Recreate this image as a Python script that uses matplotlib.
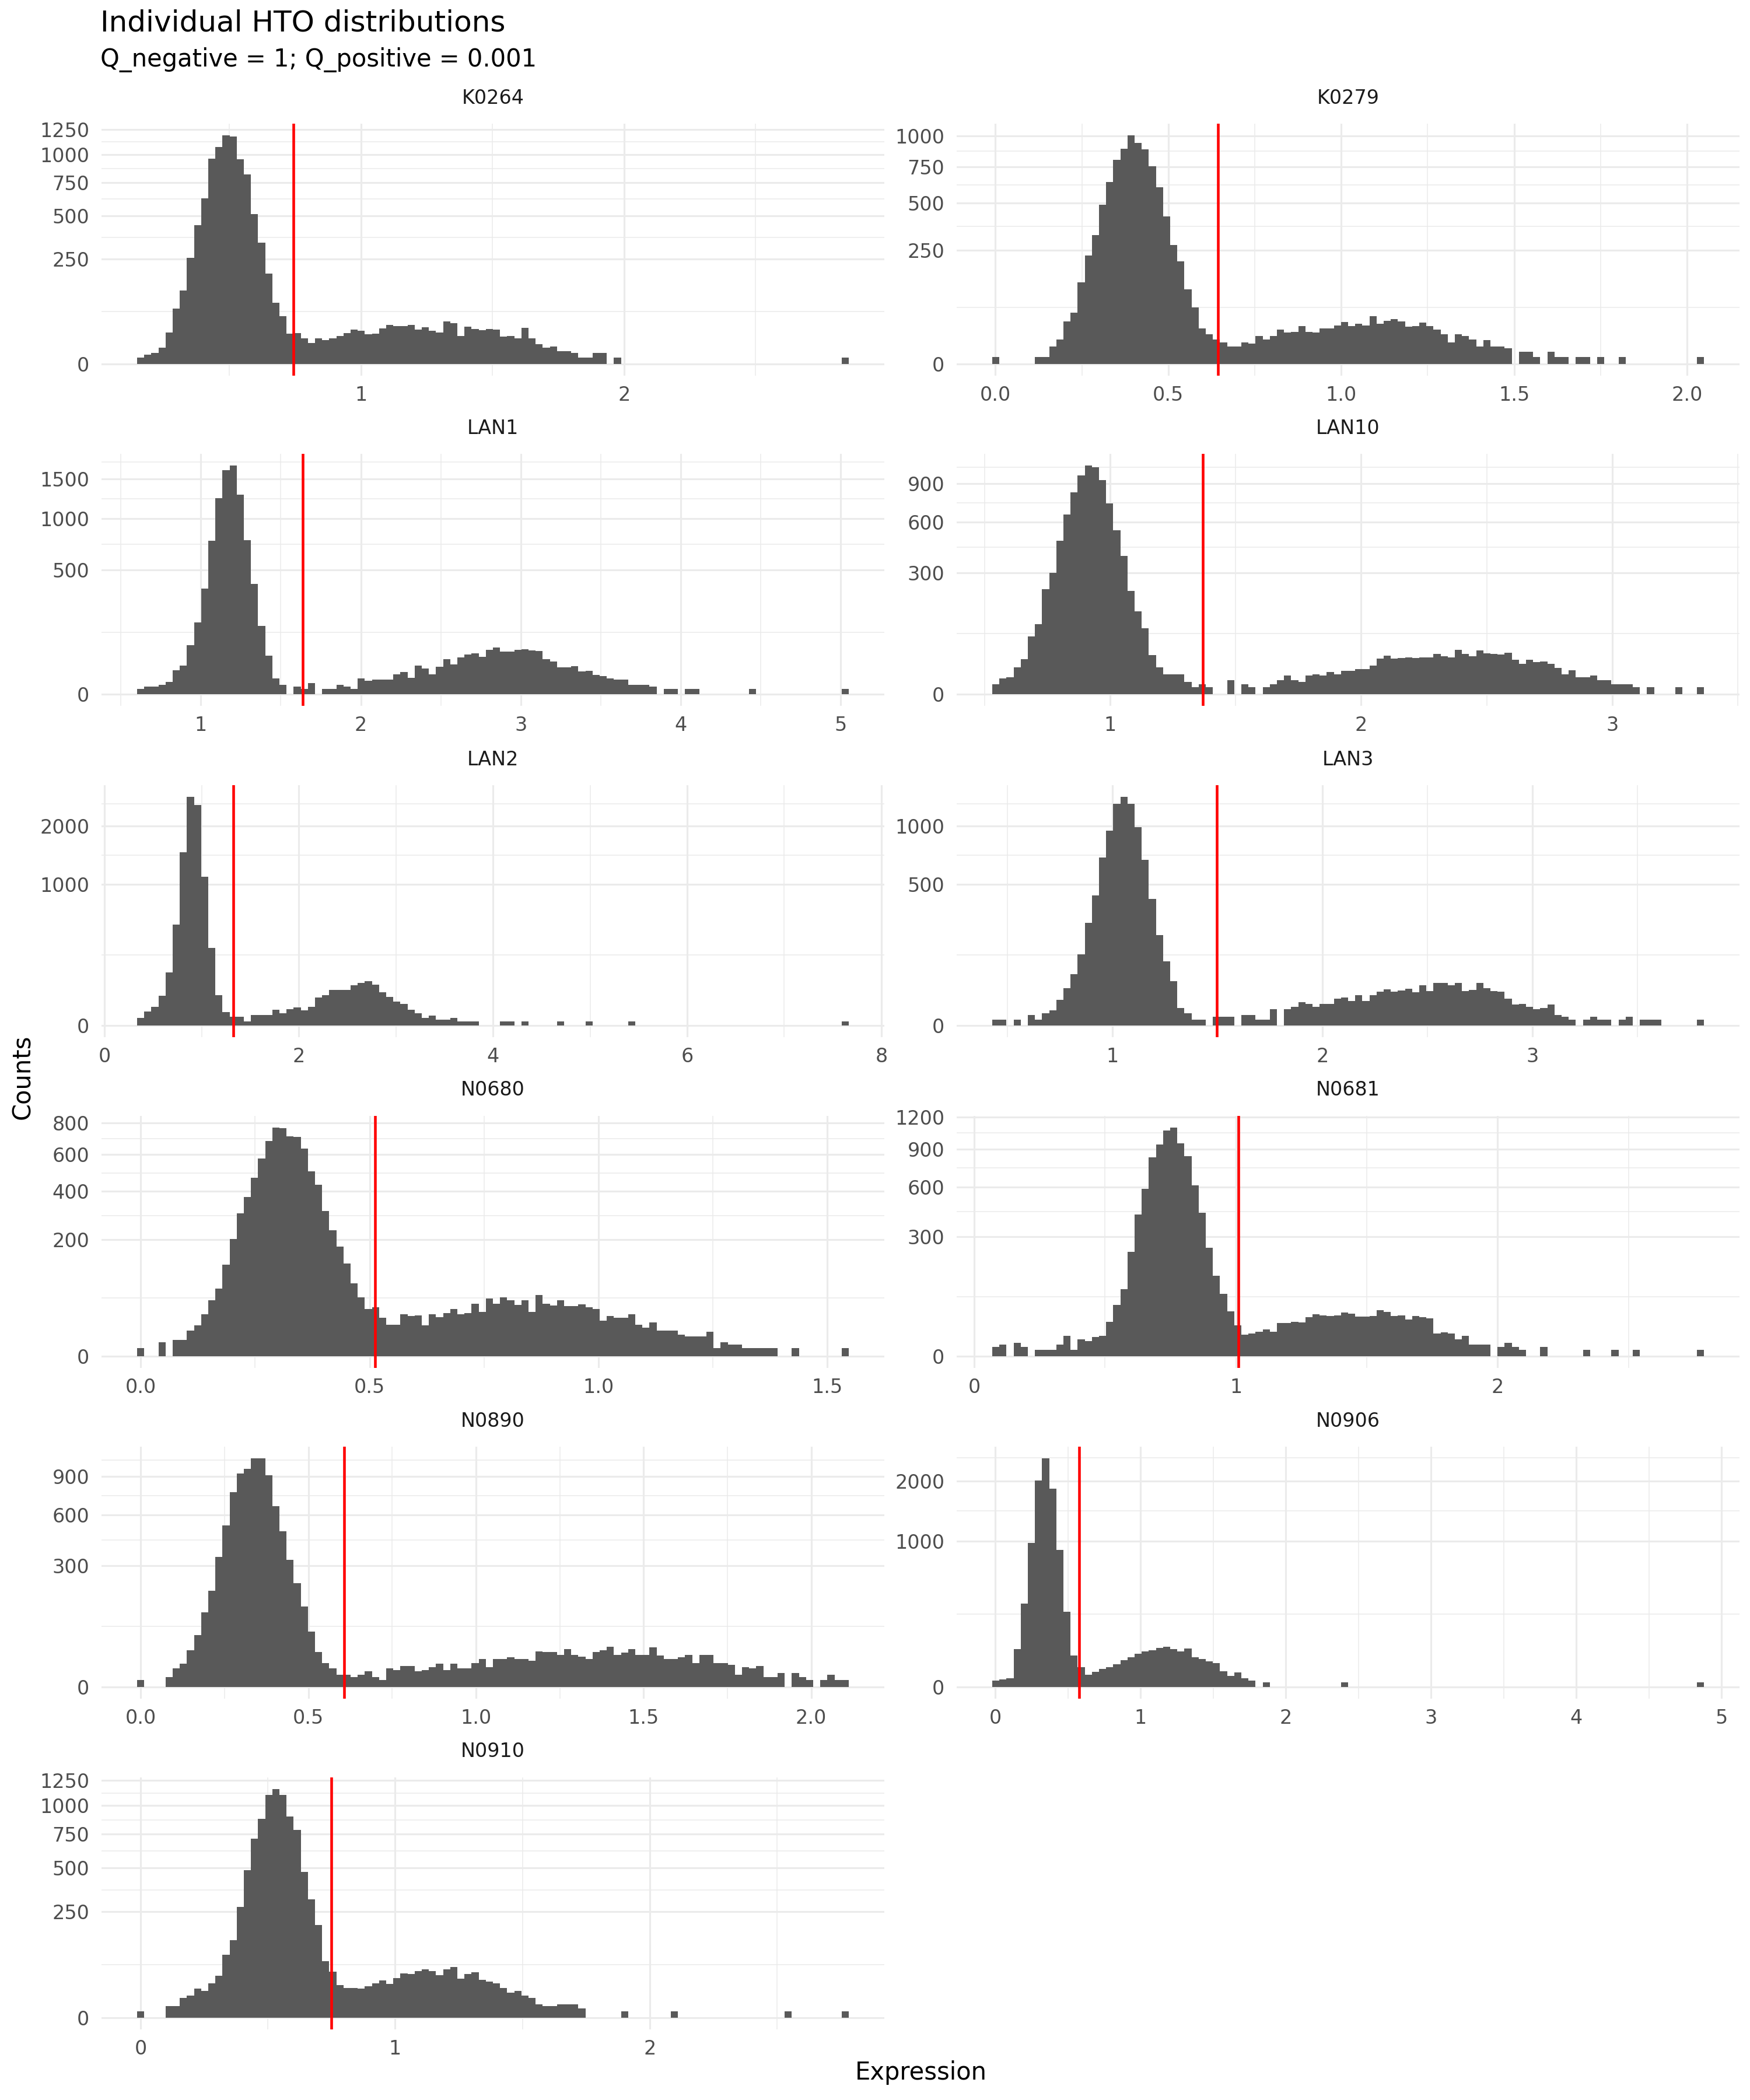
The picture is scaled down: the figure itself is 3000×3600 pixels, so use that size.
import numpy as np
import matplotlib
matplotlib.use("Agg")
import matplotlib.pyplot as plt

# ---------------- data ----------------
samples = ["K0264", "K0279", "LAN1", "LAN10", "LAN2", "LAN3",
           "N0680", "N0681", "N0890", "N0906", "N0910"]

k0264_counts = [1, 2, 3, 6, 23, 70, 124, 258, 440, 626,
                961, 1073, 1191, 1175, 955, 816, 513, 336, 187, 86,
                52, 21, 22, 15, 10, 15, 13, 15, 18, 22,
                27, 25, 20, 21, 29, 35, 33, 33, 35, 27,
                31, 25, 23, 41, 38, 18, 32, 28, 26, 28,
                27, 17, 18, 15, 30, 15, 9, 6, 7, 4,
                4, 3, 1, 1, 3, 3, 0, 1, 0, 0,
                0, 0, 0, 0, 0, 0, 0, 0, 0, 0,
                0, 0, 0, 0, 0, 0, 0, 0, 0, 0,
                0, 0, 0, 0, 0, 0, 0, 0, 0, 1]
k0279_counts = [1, 0, 0, 0, 0, 0, 1, 1, 6, 12,
                35, 51, 129, 227, 320, 488, 638, 802, 892, 1008,
                941, 887, 751, 602, 420, 273, 203, 107, 62, 25,
                17, 12, 9, 6, 6, 9, 8, 15, 12, 15,
                23, 19, 20, 28, 20, 19, 25, 25, 29, 34,
                28, 31, 29, 44, 31, 36, 39, 35, 27, 28,
                33, 28, 23, 17, 9, 17, 15, 12, 6, 11,
                6, 6, 5, 0, 3, 3, 1, 0, 3, 1,
                1, 0, 1, 1, 0, 1, 0, 0, 1, 0,
                0, 0, 0, 0, 0, 0, 0, 0, 0, 1]
lan1_counts = [1, 2, 2, 3, 5, 19, 27, 78, 167, 361,
               760, 1241, 1625, 1693, 1283, 765, 393, 151, 49, 8,
               3, 0, 2, 1, 4, 0, 1, 1, 3, 2,
               1, 8, 6, 7, 7, 7, 13, 16, 9, 27,
               22, 13, 25, 40, 29, 44, 52, 55, 46, 64,
               71, 59, 59, 64, 66, 63, 61, 40, 35, 24,
               24, 26, 17, 18, 12, 11, 8, 7, 7, 3,
               3, 3, 2, 0, 1, 1, 0, 1, 1, 0,
               0, 0, 0, 0, 0, 0, 1, 0, 0, 0,
               0, 0, 0, 0, 0, 0, 0, 0, 0, 1]
lan10_counts = [2, 5, 6, 15, 25, 68, 100, 223, 300, 476,
                656, 827, 971, 1061, 1045, 930, 739, 543, 387, 217,
                139, 88, 31, 15, 8, 8, 8, 3, 1, 2,
                1, 0, 0, 4, 0, 2, 1, 0, 1, 2,
                4, 7, 4, 3, 7, 8, 7, 10, 8, 11,
                11, 13, 13, 17, 26, 30, 26, 27, 28, 27,
                28, 28, 33, 29, 28, 40, 33, 29, 39, 34,
                33, 32, 35, 24, 19, 24, 21, 22, 19, 14,
                8, 12, 6, 6, 7, 4, 4, 2, 2, 2,
                1, 0, 1, 0, 0, 0, 1, 0, 0, 1]
lan2_counts = [3, 10, 18, 45, 143, 514, 1513, 2635, 2450, 1116,
               304, 47, 9, 4, 4, 1, 6, 6, 6, 13,
               8, 14, 17, 12, 18, 40, 47, 64, 64, 64,
               82, 92, 100, 85, 56, 42, 29, 24, 13, 8,
               3, 5, 2, 2, 3, 1, 1, 1, 0, 0,
               0, 1, 1, 0, 1, 0, 0, 0, 0, 1,
               0, 0, 0, 1, 0, 0, 0, 0, 0, 1,
               0, 0, 0, 0, 0, 0, 0, 0, 0, 0,
               0, 0, 0, 0, 0, 0, 0, 0, 0, 0,
               0, 0, 0, 0, 0, 0, 0, 0, 0, 1]
lan3_counts = [1, 1, 0, 1, 0, 3, 1, 4, 6, 17,
               35, 67, 128, 266, 427, 712, 957, 1234, 1318, 1234,
               992, 692, 404, 207, 104, 50, 8, 4, 1, 1,
               0, 2, 2, 2, 0, 3, 3, 1, 1, 7,
               0, 7, 9, 14, 12, 9, 12, 12, 18, 20,
               15, 23, 15, 23, 29, 33, 29, 31, 34, 28,
               41, 30, 46, 46, 41, 46, 30, 32, 46, 35,
               30, 29, 18, 11, 12, 9, 7, 8, 11, 3,
               2, 1, 0, 1, 2, 1, 1, 0, 1, 2,
               0, 1, 1, 1, 0, 0, 0, 0, 0, 1]
n0680_counts = [1, 0, 0, 3, 0, 4, 4, 10, 14, 26,
                46, 68, 124, 203, 302, 374, 470, 577, 683, 771,
                767, 713, 709, 636, 504, 434, 312, 235, 178, 127,
                78, 51, 33, 36, 22, 15, 15, 26, 24, 25,
                14, 26, 23, 28, 33, 26, 28, 41, 29, 49,
                41, 51, 46, 39, 46, 29, 56, 41, 38, 46,
                37, 37, 40, 36, 33, 19, 24, 22, 22, 26,
                15, 12, 17, 10, 10, 10, 7, 6, 6, 6,
                9, 1, 3, 2, 2, 1, 1, 1, 1, 1,
                0, 0, 1, 0, 0, 0, 0, 0, 0, 1]
n0681_counts = [2, 3, 0, 4, 2, 0, 1, 1, 1, 3,
                9, 1, 6, 5, 8, 9, 25, 56, 94, 230,
                422, 589, 830, 941, 1069, 1097, 951, 840, 613, 433,
                248, 137, 82, 43, 20, 10, 11, 13, 15, 13,
                23, 23, 25, 24, 32, 37, 35, 34, 35, 40,
                38, 33, 33, 34, 45, 42, 34, 35, 29, 34,
                32, 30, 11, 12, 11, 6, 9, 3, 3, 3,
                0, 2, 4, 2, 1, 0, 0, 2, 0, 0,
                0, 0, 0, 1, 0, 0, 0, 1, 0, 0,
                1, 0, 0, 0, 0, 0, 0, 0, 0, 1]
n0890_counts = [1, 0, 0, 0, 2, 7, 11, 28, 55, 114,
                189, 345, 531, 772, 926, 967, 1062, 1062, 911, 665,
                494, 329, 218, 131, 62, 25, 12, 7, 3, 3,
                2, 3, 5, 2, 1, 7, 6, 9, 9, 5,
                6, 8, 11, 6, 11, 7, 7, 12, 16, 8,
                16, 16, 18, 16, 16, 14, 26, 25, 25, 21,
                29, 21, 19, 16, 25, 28, 33, 21, 24, 29,
                21, 21, 32, 20, 16, 16, 18, 21, 12, 21,
                21, 12, 12, 10, 3, 8, 7, 9, 2, 2,
                4, 0, 4, 2, 1, 0, 1, 3, 1, 1]
n0906_counts = [2, 3, 4, 69, 330, 981, 2012, 2466, 1856, 888,
                269, 48, 19, 7, 11, 16, 19, 25, 35, 43,
                53, 61, 65, 73, 78, 69, 61, 71, 43, 38,
                32, 28, 12, 6, 10, 4, 2, 0, 1, 0,
                0, 0, 0, 0, 0, 0, 0, 0, 0, 1,
                0, 0, 0, 0, 0, 0, 0, 0, 0, 0,
                0, 0, 0, 0, 0, 0, 0, 0, 0, 0,
                0, 0, 0, 0, 0, 0, 0, 0, 0, 0,
                0, 0, 0, 0, 0, 0, 0, 0, 0, 0,
                0, 0, 0, 0, 0, 0, 0, 0, 0, 1]
n0910_counts = [1, 0, 0, 0, 3, 3, 9, 11, 19, 16,
                27, 40, 89, 135, 274, 486, 715, 881, 1105, 1164,
                1105, 902, 786, 474, 313, 192, 71, 47, 24, 20,
                20, 19, 22, 27, 31, 26, 35, 44, 43, 49,
                52, 49, 41, 53, 57, 34, 43, 46, 32, 29,
                27, 20, 14, 16, 11, 9, 4, 3, 3, 4,
                4, 4, 2, 0, 0, 0, 0, 0, 1, 0,
                0, 0, 0, 0, 0, 1, 0, 0, 0, 0,
                0, 0, 0, 0, 0, 0, 0, 0, 0, 0,
                0, 1, 0, 0, 0, 0, 0, 0, 0, 1]

# outer edges of the histogram bins (expression) per sample
bin_low = [0.150, -0.009, 0.601, 0.531, 0.334, 0.429, -0.008, 0.069, -0.011, -0.022, -0.014]
bin_high = [2.854, 2.049, 5.051, 3.365, 7.664, 3.817, 1.547, 2.788, 2.112, 4.879, 2.782]
# cutoff (red line) per sample
thresholds = [0.744, 0.644, 1.637, 1.369, 1.324, 1.497, 0.512, 1.010, 0.607, 0.576, 0.749]

y_breaks = [[0, 250, 500, 750, 1000, 1250],
            [0, 250, 500, 750, 1000],
            [0, 500, 1000, 1500],
            [0, 300, 600, 900],
            [0, 1000, 2000],
            [0, 500, 1000],
            [0, 200, 400, 600, 800],
            [0, 300, 600, 900, 1200],
            [0, 300, 600, 900],
            [0, 1000, 2000],
            [0, 250, 500, 750, 1000, 1250]]
x_breaks = [[1, 2],
            [0.0, 0.5, 1.0, 1.5, 2.0],
            [1, 2, 3, 4, 5],
            [1, 2, 3],
            [0, 2, 4, 6, 8],
            [1, 2, 3],
            [0.0, 0.5, 1.0, 1.5],
            [0, 1, 2],
            [0.0, 0.5, 1.0, 1.5, 2.0],
            [0, 1, 2, 3, 4, 5],
            [0, 1, 2]]
x_labels = [["1", "2"],
            ["0.0", "0.5", "1.0", "1.5", "2.0"],
            ["1", "2", "3", "4", "5"],
            ["1", "2", "3"],
            ["0", "2", "4", "6", "8"],
            ["1", "2", "3"],
            ["0.0", "0.5", "1.0", "1.5"],
            ["0", "1", "2"],
            ["0.0", "0.5", "1.0", "1.5", "2.0"],
            ["0", "1", "2", "3", "4", "5"],
            ["0", "1", "2"]]

all_counts = [k0264_counts, k0279_counts, lan1_counts, lan10_counts, lan2_counts,
              lan3_counts, n0680_counts, n0681_counts, n0890_counts, n0906_counts,
              n0910_counts]

title = "Individual HTO distributions"
subtitle = "Q_negative = 1; Q_positive = 0.001"

# ---------------- layout / style ----------------
plt.rcParams['font.family'] = ['DejaVu Sans']
W, H = 3000, 3600
fig = plt.figure(figsize=(10, 12), dpi=300)
fig.patch.set_facecolor('white')

col_left = [174, 1640]
panel_w = 1342
row_top = [212, 778, 1346, 1913, 2480, 3047]
panel_h = 432

GRID = '#EBEBEB'
BAR = '#595959'
TXT = '#4D4D4D'


def fwd(v):
    v = np.asarray(v, dtype=float)
    return np.sign(v) * np.sqrt(np.abs(v))


def inv(v):
    v = np.asarray(v, dtype=float)
    return np.sign(v) * v ** 2


for idx, name in enumerate(samples):
    r, c = divmod(idx, 2)
    ax = fig.add_axes([col_left[c] / W, 1 - (row_top[r] + panel_h) / H,
                       panel_w / W, panel_h / H])
    counts = np.asarray(all_counts[idx], dtype=float)
    edges = np.linspace(bin_low[idx], bin_high[idx], len(counts) + 1)

    ax.set_yscale('function', functions=(fwd, inv))
    ax.stairs(counts, edges, fill=True, color=BAR, linewidth=0, baseline=0, zorder=2)
    ax.axvline(thresholds[idx], color='#FF0000', linewidth=1.1, zorder=3)

    # y breaks and sqrt-space minor breaks
    yb = y_breaks[idx]
    ystep = yb[1] - yb[0]
    yext = yb + [yb[-1] + ystep]
    ymin = [((np.sqrt(a) + np.sqrt(b)) / 2) ** 2 for a, b in zip(yext[:-1], yext[1:])]
    ax.set_yticks(yb, [str(v) for v in yb])
    ax.set_yticks(ymin, minor=True)

    xb = x_breaks[idx]
    xstep = xb[1] - xb[0]
    xmin_t = [xb[0] - xstep / 2] + [v + xstep / 2 for v in xb]
    ax.set_xticks(xb, x_labels[idx])
    ax.set_xticks(xmin_t, minor=True)

    # limits with 5% expansion (y in sqrt space) -- set after ticks
    s = np.sqrt(counts.max())
    ax.set_ylim(-(0.05 * s) ** 2, (1.05 * s) ** 2)
    span = bin_high[idx] - bin_low[idx]
    ax.set_xlim(bin_low[idx] - 0.05 * span, bin_high[idx] + 0.05 * span)

    ax.grid(True, which='major', color=GRID, linewidth=0.75)
    ax.grid(True, which='minor', color=GRID, linewidth=0.38)
    ax.set_axisbelow(True)
    for sp in ax.spines.values():
        sp.set_visible(False)
    ax.tick_params(which='both', length=0)
    ax.tick_params(axis='y', labelsize=8, labelcolor=TXT, pad=5)
    ax.tick_params(axis='x', labelsize=8, labelcolor=TXT, pad=4)
    ax.set_facecolor('white')

    ax.text(0.5, 1 + 44 / panel_h, name, transform=ax.transAxes,
            ha='center', va='center', fontsize=8, color='#1A1A1A')

fig.text(172 / W, 1 - 39 / H, title, ha='left', va='center', fontsize=12, color='black')
fig.text(172 / W, 1 - 103 / H, subtitle, ha='left', va='center', fontsize=10, color='black')
fig.text(39 / W, 1 - 1846 / H, 'Counts', rotation=90, ha='center', va='center',
         fontsize=10, color='black')
fig.text(1579 / W, 1 - 3553 / H, 'Expression', ha='center', va='center',
         fontsize=10, color='black')

fig.savefig('out.png', dpi=300, facecolor='white')
